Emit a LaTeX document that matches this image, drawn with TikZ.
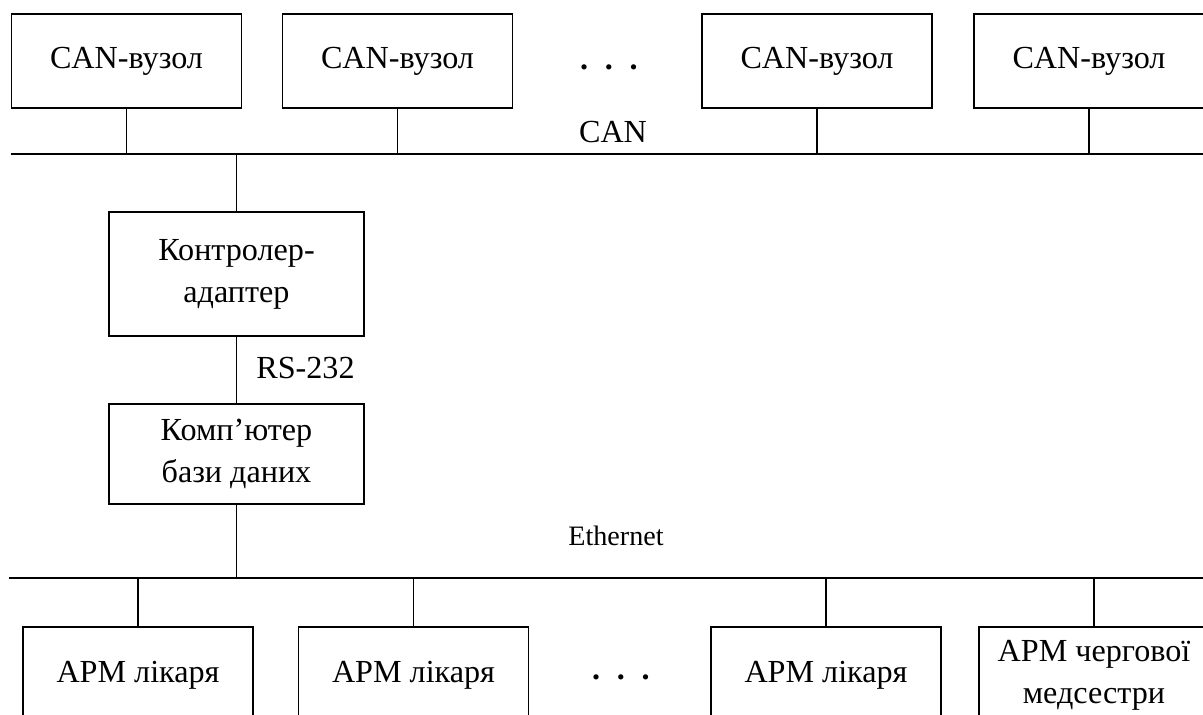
\documentclass[tikz,border=0pt]{standalone}
\usepackage{fontspec}
\setmainfont{Liberation Serif}
\usetikzlibrary{calc}
\tikzset{
	txt/.style={font=\fontsize{18.3}{23.8}\selectfont},
	blok/.style={txt, draw, line width=1.1pt, inner sep=0pt, align=center},
	vuzol/.style={blok, minimum width=4.6cm, minimum height=1.88cm},
	apm/.style={blok, minimum width=4.6cm, minimum height=1.92cm},
	bus/.style={line width=1.6pt},
	conn/.style={line width=0.8pt},
	krapky/.style={txt, anchor=base, font=\fontsize{18.3}{23.8}\selectfont\bfseries}
}

\begin{document}
\begin{tikzpicture}[x=0.02cm, y=-0.02cm]
		%%%%% START %%%%%
		
		\clip (0, 0) rectangle (1203, 715);
		
		% CAN
		\node[vuzol] (can1) at (126.5, 61) {CAN-вузол};
		\node[vuzol] (can2) at (397.5, 61) {CAN-вузол};
		\node[vuzol] (can3) at (817, 61) {CAN-вузол};
		\node[vuzol] (can4) at (1089, 61) {CAN-вузол};
		\node[krapky] (dotsTop) at (609, 70) {.\hspace{0.52em}.\hspace{0.52em}.};
		
		\coordinate (canL) at (11, 154);
		\coordinate (canR) at (1203, 154);
		\draw[bus] (canL) -- (canR);
		\node[txt] (canLbl) at (613, 132) {CAN};
		
		\foreach \n in {can1, can2, can3, can4}
			\draw[conn] (\n.south) -- (\n.south |- canL);
		
		% kontroler i kompjuter
		\node[blok, minimum width=5.1cm, minimum height=2.48cm] (ktr) at (236.5, 274) {Контролер-\\адаптер};
		\draw[conn] (ktr.north) -- (ktr.north |- canL);
		
		\node[blok, minimum width=5.1cm, minimum height=2.0cm] (komp) at (236.5, 454) {Комп’ютер\\бази даних};
		\draw[conn] (ktr.south) -- (komp.north);
		\node[txt, anchor=west, inner sep=0pt] (rs) at (256, 368) {RS-232};
		
		% Ethernet
		\coordinate (ethL) at (9, 578);
		\coordinate (ethR) at (1203, 578);
		\draw[bus] (ethL) -- (ethR);
		\node[anchor=base, font=\fontsize{16}{20}\selectfont] (ethLbl) at (616, 546) {Ethernet};
		\draw[conn] (komp.south) -- (komp.south |- ethL);
		
		\node[apm] (apm1) at (138, 675) {АРМ лікаря};
		\node[apm] (apm2) at (413.5, 675) {АРМ лікаря};
		\node[apm] (apm3) at (826, 675) {АРМ лікаря};
		\node[apm] (apm4) at (1094, 675) {АРМ чергової\\медсестри};
		\node[krapky] (dotsBot) at (621, 679) {.\hspace{0.52em}.\hspace{0.52em}.};
		
		\foreach \n in {apm1, apm2, apm3, apm4}
			\draw[conn] (\n.north) -- (\n.north |- ethL);
		
		%%%%% END %%%%%
	\end{tikzpicture}
\end{document}
